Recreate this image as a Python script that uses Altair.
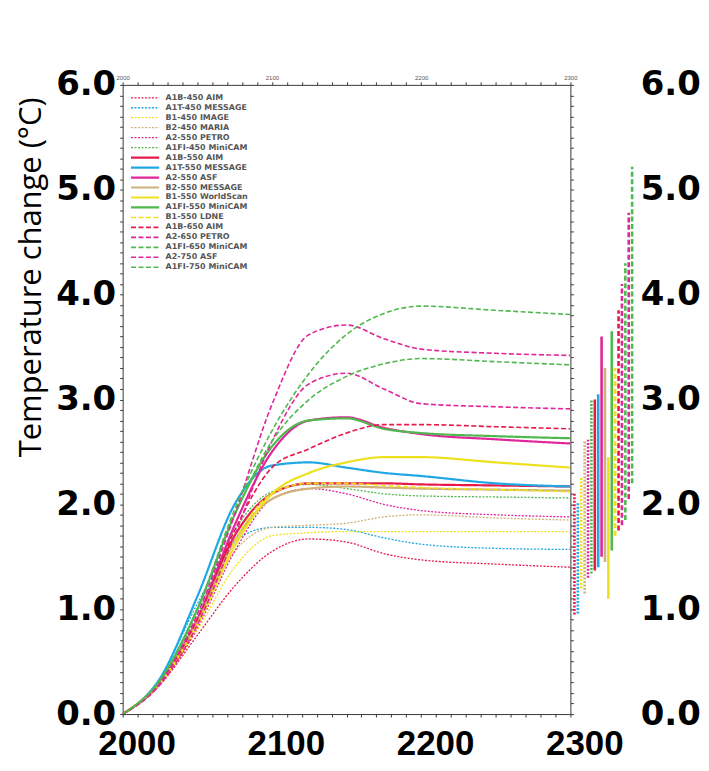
import altair as alt
import pandas as pd

# ---------------- data ----------------
years = [2000, 2025, 2050, 2075, 2100, 2125, 2150, 2175, 2200, 2250, 2300]

scenarios = [
    "A1B-450 AIM", "A1T-450 MESSAGE", "B1-450 IMAGE", "B2-450 MARIA",
    "A2-550 PETRO", "A1FI-450 MiniCAM", "A1B-550 AIM", "A1T-550 MESSAGE",
    "A2-550 ASF", "B2-550 MESSAGE", "B1-550 WorldScan", "A1FI-550 MiniCAM",
    "B1-550 LDNE", "A1B-650 AIM", "A2-650 PETRO", "A1FI-650 MiniCAM",
    "A2-750 ASF", "A1FI-750 MiniCAM",
]

a1b_450_aim = [0, 0.28, 0.75, 1.22, 1.55, 1.67, 1.64, 1.53, 1.47, 1.43, 1.40]
a1t_450_message = [0, 0.34, 1.05, 1.65, 1.78, 1.78, 1.76, 1.68, 1.62, 1.58, 1.57]
b1_450_image = [0, 0.28, 0.80, 1.40, 1.70, 1.73, 1.74, 1.74, 1.74, 1.74, 1.74]
b2_450_maria = [0, 0.30, 0.90, 1.55, 1.78, 1.80, 1.82, 1.88, 1.90, 1.87, 1.85]
a2_550_petro = [0, 0.28, 0.82, 1.55, 2.05, 2.15, 2.10, 2.00, 1.94, 1.90, 1.88]
a1fi_450_minicam = [0, 0.32, 0.95, 1.75, 2.12, 2.19, 2.15, 2.10, 2.08, 2.07, 2.06]
a1b_550_aim = [0, 0.30, 0.90, 1.70, 2.10, 2.20, 2.20, 2.20, 2.19, 2.18, 2.17]
a1t_550_message = [0, 0.34, 1.12, 2.00, 2.37, 2.40, 2.35, 2.30, 2.27, 2.20, 2.17]
a2_550_asf = [0, 0.30, 0.90, 1.80, 2.50, 2.80, 2.83, 2.73, 2.67, 2.62, 2.58]
b2_550_message = [0, 0.30, 0.88, 1.65, 2.05, 2.15, 2.17, 2.16, 2.15, 2.14, 2.13]
b1_550_worldscan = [0, 0.30, 0.85, 1.60, 2.10, 2.30, 2.40, 2.45, 2.45, 2.40, 2.35]
a1fi_550_minicam = [0, 0.32, 1.00, 1.90, 2.55, 2.80, 2.82, 2.72, 2.68, 2.65, 2.63]
b1_550_ldne = [0, 0.30, 0.85, 1.65, 2.10, 2.20, 2.20, 2.18, 2.16, 2.14, 2.12]
a1b_650_aim = [0, 0.30, 0.90, 1.75, 2.35, 2.53, 2.68, 2.76, 2.76, 2.74, 2.72]
a2_650_petro = [0, 0.28, 0.85, 1.70, 2.60, 3.15, 3.25, 3.10, 2.96, 2.93, 2.91]
a1fi_650_minicam = [0, 0.32, 1.00, 1.90, 2.60, 3.00, 3.22, 3.34, 3.39, 3.36, 3.33]
a2_750_asf = [0, 0.30, 0.95, 1.90, 2.95, 3.62, 3.71, 3.58, 3.48, 3.44, 3.42]
a1fi_750_minicam = [0, 0.32, 1.00, 1.95, 2.70, 3.25, 3.62, 3.82, 3.89, 3.85, 3.81]

series_values = [
    a1b_450_aim, a1t_450_message, b1_450_image, b2_450_maria, a2_550_petro,
    a1fi_450_minicam, a1b_550_aim, a1t_550_message, a2_550_asf, b2_550_message,
    b1_550_worldscan, a1fi_550_minicam, b1_550_ldne, a1b_650_aim, a2_650_petro,
    a1fi_650_minicam, a2_750_asf, a1fi_750_minicam,
]

# equilibrium ranges drawn as vertical bars to the right of 2300
bar_low = [0.95, 0.96, 1.20, 1.15, 1.30, 1.34, 1.37, 1.40, 1.50, 1.45,
           1.10, 1.56, 1.70, 1.75, 1.80, 1.85, 2.05, 2.20]
bar_high = [2.10, 2.02, 2.25, 2.60, 2.62, 3.00, 3.00, 3.05, 3.60, 3.30,
            2.45, 3.65, 3.30, 3.85, 4.10, 4.30, 4.78, 5.22]

# ---------------- styles ----------------
RED, BLUE, YEL, TAN, MAG, GRN = "#e5194a", "#1fa8e4", "#efe01e", "#cdb27a", "#e0269a", "#4fb84f"
colors = [RED, BLUE, YEL, TAN, MAG, GRN, RED, BLUE, MAG, TAN, YEL, GRN,
          YEL, RED, MAG, GRN, MAG, GRN]
DOT, SOL, DSH = [2, 1.5], [1, 0], [5, 2.5]
dashes = [DOT] * 6 + [SOL] * 6 + [DSH] * 6
widths = [1.3] * 6 + [2.2] * 6 + [1.6] * 6

rows = []
for order, (name, vals) in enumerate(zip(scenarios, series_values)):
    for yr, v in zip(years, vals):
        rows.append({"scenario": name, "order": order, "year": yr, "temp": v})
df = pd.DataFrame(rows)

bars = pd.DataFrame({"scenario": scenarios, "idx": list(range(len(scenarios))),
                     "low": bar_low, "high": bar_high})

color_scale = alt.Scale(domain=scenarios, range=colors)
dash_scale = alt.Scale(domain=scenarios, range=dashes)
width_scale = alt.Scale(type="ordinal", domain=scenarios, range=widths)

x_scale = alt.Scale(domain=[2000, 2300], nice=False, zero=False)
y_scale = alt.Scale(domain=[0, 6], nice=False, zero=True)

decade_ticks = list(range(2000, 2301, 10))
tenth_ticks = [round(i * 0.1, 1) for i in range(61)]

century_expr = "datum.value % 100 == 0 ? format(datum.value, 'd') : ''"
unit_expr = "abs(datum.value - round(datum.value)) < 0.001 ? format(datum.value, '.1f') : ''"

AX = "#3a3a3a"

lines = alt.Chart(df).mark_line(interpolate="monotone", clip=True).encode(
    x=alt.X("year:Q", scale=x_scale,
            axis=alt.Axis(orient="bottom", values=decade_ticks, labelExpr=century_expr,
                          title=None, grid=False, labelOverlap=False, labelFlush=False,
                          labelFont="Liberation Sans", labelFontWeight="bold",
                          labelFontSize=35, labelColor="#000", labelPadding=10,
                          labelOffset=14, tickSize=3, tickColor=AX, domainColor=AX,
                          labelBound=False)),
    y=alt.Y("temp:Q", scale=y_scale,
            axis=alt.Axis(orient="left", values=tenth_ticks, labelExpr=unit_expr,
                          title="Temperature change (°C)", titleFont="Open Sans",
                          titleFontSize=31, titleFontWeight="normal", titleColor="#000",
                          titleAnchor="end", titleAlign="right", titleY=12,
                          titlePadding=8,
                          grid=False, labelOverlap=False, labelFlush=False,
                          labelFont="DejaVu Sans", labelFontWeight="bold",
                          labelFontSize=34, labelColor="#000", labelPadding=4,
                          tickSize=3, tickColor=AX, domainColor=AX, labelBound=False)),
    color=alt.Color("scenario:N", scale=color_scale, sort=scenarios,
                    legend=alt.Legend(title=None, orient="none", legendX=7, legendY=8,
                                      symbolType="stroke", symbolSize=800,
                                      labelFont="DejaVu Sans", labelFontSize=8,
                                      labelFontWeight="bold", labelColor="#555",
                                      labelOffset=5, rowPadding=0, clipHeight=9.9,
                                      labelLimit=200)),
    strokeDash=alt.StrokeDash("scenario:N", scale=dash_scale, sort=scenarios),
    strokeWidth=alt.StrokeWidth("scenario:N", scale=width_scale, sort=scenarios),
)

frame = alt.Chart(df).mark_point(opacity=0).encode(
    x=alt.X("year:Q", scale=x_scale,
            axis=alt.Axis(orient="top", values=decade_ticks, labelExpr=century_expr,
                          title=None, grid=False, labelOverlap=False, labelFlush=False,
                          labelFontSize=6, labelColor="#555", labelPadding=1,
                          tickSize=3, tickColor=AX, domainColor=AX)),
    y=alt.Y("temp:Q", scale=y_scale,
            axis=alt.Axis(orient="right", values=tenth_ticks, labels=False, title=None,
                          grid=False, tickSize=3, tickColor=AX, domainColor=AX)),
)

main = alt.layer(lines, frame).resolve_axis(x="independent", y="independent").properties(
    width=449, height=631)

errs = alt.Chart(bars).mark_rule(strokeWidth=2.6).encode(
    x=alt.X("idx:Q", scale=alt.Scale(domain=[-1.2, 18.2], nice=False, zero=False), axis=None),
    y=alt.Y("low:Q", scale=y_scale,
            axis=alt.Axis(orient="right", values=[0, 1, 2, 3, 4, 5, 6], format=".1f",
                          title=None, grid=False, domain=False, ticks=False,
                          labelFont="DejaVu Sans", labelFontWeight="bold",
                          labelFontSize=34, labelColor="#000", labelPadding=4,
                          labelOverlap=False, labelFlush=False, labelBound=False)),
    y2="high:Q",
    color=alt.Color("scenario:N", scale=color_scale, sort=scenarios, legend=None),
    strokeDash=alt.StrokeDash("scenario:N", scale=dash_scale, sort=scenarios, legend=None),
).properties(width=66, height=631)

chart = alt.hconcat(main, errs, spacing=0, bounds="flush").resolve_scale(
    y="independent", color="independent", strokeDash="independent",
    strokeWidth="independent").resolve_legend(
    color="independent", strokeDash="independent", strokeWidth="independent"
).properties(
    padding={"left": 7, "top": 59, "right": 0, "bottom": 0},
    background="white",
).configure_view(stroke=None)

chart.save("out.html", embed_options={"renderer": "svg", "actions": False})
